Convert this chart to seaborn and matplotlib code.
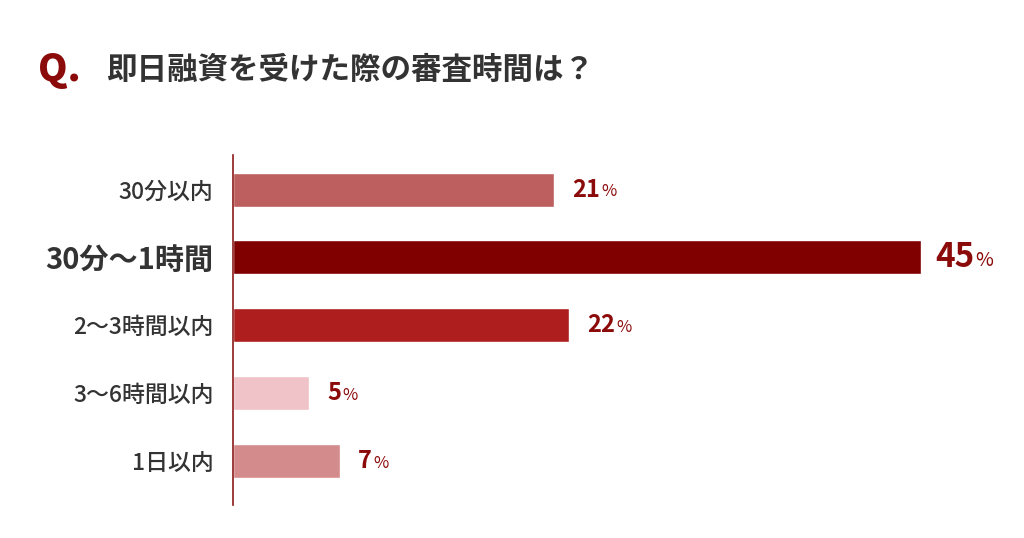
import matplotlib
matplotlib.use("Agg")
import matplotlib.pyplot as plt
import seaborn as sns
import pandas as pd

categories = ["30分以内", "30分〜1時間", "2〜3時間以内", "3〜6時間以内", "1日以内"]
values = [21, 45, 22, 5, 7]
colors = ["#bd5f5f", "#800000", "#ae1e1e", "#efc3c8", "#d48b8b"]
title_q = "Q."
title = "即日融資を受けた際の審査時間は？"

sns.set_style("white")
plt.rcParams["font.family"] = ["Noto Sans CJK JP", "DejaVu Sans"]

df = pd.DataFrame({"cat": categories, "val": values})
fig = plt.figure(figsize=(10.24, 5.38), dpi=100)
ax = fig.add_axes([233 / 1024, 1 - 505 / 538, (921 - 233) / 1024, 350 / 538])
sns.barplot(data=df, x="val", y="cat", hue="cat", palette=colors, width=0.5,
            legend=False, ax=ax, saturation=1)
ax.set_xlim(0, 45)
ax.set_ylim(4.65, -0.51)
ax.set_xlabel("")
ax.set_ylabel("")
ax.set_xticks([])
for s in ["top", "right", "bottom"]:
    ax.spines[s].set_visible(False)
ax.spines["left"].set_color("#8b1a1a")
ax.spines["left"].set_linewidth(1.2)

ax.set_yticks(range(len(categories)))
ax.set_yticklabels(categories)
ax.tick_params(axis="y", length=0, pad=14)
for i, lab in enumerate(ax.get_yticklabels()):
    lab.set_color("#333333")
    if i == 1:
        lab.set_fontsize(21)
        lab.set_fontweight("bold")
    else:
        lab.set_fontsize(16.5)
        lab.set_fontweight("medium")

fig.canvas.draw()
r = fig.canvas.get_renderer()
for i, v in enumerate(values):
    big = i == 1
    t = ax.annotate(str(v), (v, i), xytext=(10 if big else 13, 0), textcoords="offset points",
                    ha="left", va="center", color="#8b0a0a", fontweight="bold",
                    fontsize=24 if big else 17, annotation_clip=False)
    bb = t.get_window_extent(r)
    fig.text((bb.x1 + 1) / fig.bbox.width, (bb.y0 + bb.height * 0.4) / fig.bbox.height, "%",
             color="#8b0a0a", fontsize=14 if big else 12, va="center", ha="left")

fig.text(38 / 1024, 1 - 70 / 538, title_q, color="#8b0a0a", fontsize=27,
         fontweight="heavy", va="center", ha="left")
fig.text(106 / 1024, 1 - 70 / 538, title, color="#333333", fontsize=22,
         fontweight="bold", va="center", ha="left")

fig.savefig("out.png", dpi=100)
